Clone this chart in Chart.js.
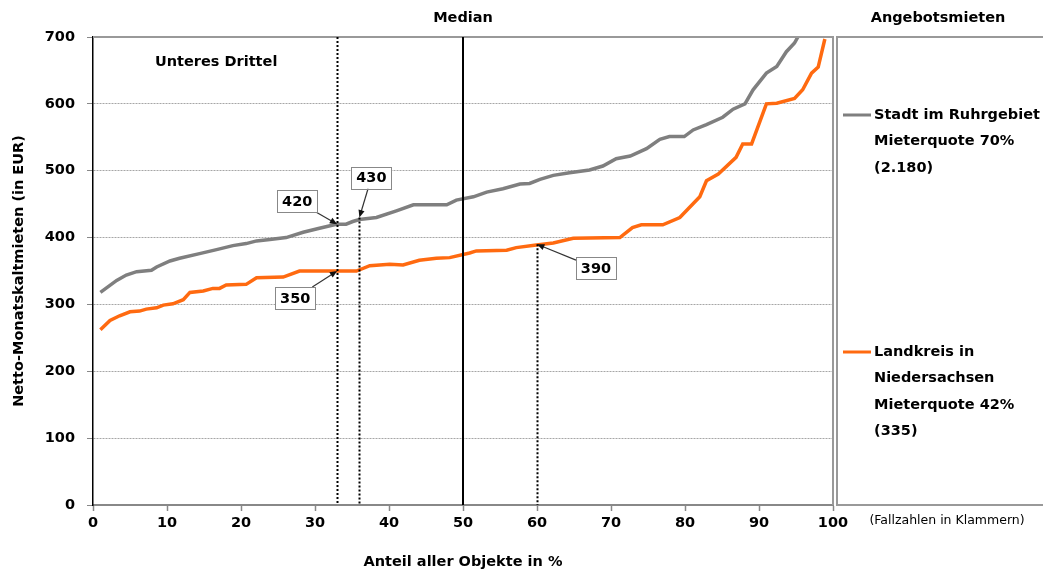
<!DOCTYPE html>
<html>
<head>
<meta charset="utf-8">
<script src="https://cdn.jsdelivr.net/npm/chart.js@4.4.0/dist/chart.umd.min.js"></script>
<style>
body { margin: 0; background: #fff; }
#wrap { width: 1043px; height: 576px; }
</style>
</head>
<body>
<div id="wrap"><canvas id="rentChart"></canvas></div>
<script>
// Stadt im Ruhrgebiet (grau)
const cityPct  = [1, 3.2, 4.5, 5.9, 7.9, 8.6, 10.4, 11.7, 14.4, 16.7, 18.9, 20.7, 22.1, 23.9, 26.1, 28.4, 30.6, 32.9, 34.2, 35.1, 36, 38.3, 41, 43.3, 47.8, 49.1, 51.4, 53.2, 55.4, 57.7, 59, 60.4, 62.2, 64.4, 67.1, 68.9, 70.7, 72.6, 74.8, 76.6, 77.9, 79.9, 81.1, 82.9, 85.1, 86.5, 88.1, 89.2, 91, 92.4, 93.7, 94.8, 95.4];
const cityRent = [318, 336, 344, 349, 351, 356, 365, 369, 376, 382, 388, 391, 395, 397, 400, 408, 414, 420, 420, 424, 427, 430, 440, 449, 449, 456, 461, 468, 473, 480, 481, 487, 493, 497, 501, 507, 518, 522, 533, 547, 551, 551, 561, 569, 580, 592, 600, 621, 646, 656, 678, 691, 703];

// Landkreis in Niedersachsen (orange)
const countyPct  = [1, 2.3, 3.6, 5, 6.3, 7.2, 8.6, 9.5, 10.8, 12.2, 13.1, 14.9, 16.2, 17.1, 18, 20.7, 22.1, 25.7, 27.9, 35.6, 37.4, 40.1, 41.9, 44.1, 46.4, 48.2, 50.9, 51.8, 55.9, 57.2, 59.9, 62.2, 64.9, 71.2, 72.9, 74.1, 77, 79.3, 82, 82.9, 84.5, 86.9, 87.8, 89, 91, 92.4, 94.8, 95.9, 97.1, 98, 98.9];
const countyRent = [262, 276, 283, 289, 290, 293, 295, 299, 301, 307, 318, 320, 324, 324, 329, 330, 340, 341, 350, 350, 358, 360, 359, 366, 369, 370, 377, 380, 381, 385, 389, 392, 399, 400, 415, 419, 419, 430, 461, 485, 495, 520, 540, 540, 600, 601, 608, 621, 646, 655, 697];

// markierte Werte
const markerPct  = [33, 36, 33, 60];
const markerRent = [420, 430, 350, 390];

// senkrechte Hilfslinien (gepunktet), von Wert bis 0
const guidePct = [33, 36, 60];
const guideTop = [700, 430, 390];
const medianPct = 50;

const cityLegend = ['Stadt im Ruhrgebiet', 'Mieterquote 70%', '(2.180)'];
const countyLegend = ['Landkreis in', 'Niedersachsen', 'Mieterquote 42%', '(335)'];

const FONT = "'DejaVu Sans', sans-serif";
const GRAY = '#7f7f7f';
const ORANGE = '#ff6a10';

// box offsets of the value labels relative to the marked point (px)
const labelOffsets = [[-40, -23], [12, -40], [-42, 27], [59, 24]];

function points(xs, ys) {
    return xs.map((v, i) => ({x: v, y: ys[i]}));
}

function arrow(ctx, x0, y0, x1, y1) {
    const ang = Math.atan2(y1 - y0, x1 - x0);
    ctx.beginPath();
    ctx.moveTo(x0, y0);
    ctx.lineTo(x1 - 6 * Math.cos(ang), y1 - 6 * Math.sin(ang));
    ctx.stroke();
    ctx.beginPath();
    ctx.moveTo(x1, y1);
    ctx.lineTo(x1 - 8 * Math.cos(ang - 0.4), y1 - 8 * Math.sin(ang - 0.4));
    ctx.lineTo(x1 - 8 * Math.cos(ang + 0.4), y1 - 8 * Math.sin(ang + 0.4));
    ctx.closePath();
    ctx.fill();
}

const overlay = {
    id: 'overlay',
    afterDatasetsDraw(chart) {
        const {ctx, chartArea: a, scales: {x, y}} = chart;
        ctx.save();

        // top + right frame of plot
        ctx.strokeStyle = '#999';
        ctx.lineWidth = 2;
        ctx.beginPath();
        ctx.moveTo(a.left, a.top);
        ctx.lineTo(a.right, a.top);
        ctx.lineTo(a.right, a.bottom);
        ctx.stroke();

        // dotted guides
        ctx.strokeStyle = '#000';
        ctx.lineWidth = 2;
        ctx.setLineDash([2, 2]);
        for (let i = 0; i < guidePct.length; i++) {
            const px = Math.round(x.getPixelForValue(guidePct[i])) + 0.5;
            ctx.beginPath();
            ctx.moveTo(px, y.getPixelForValue(guideTop[i]));
            ctx.lineTo(px, a.bottom);
            ctx.stroke();
        }
        ctx.setLineDash([]);

        // median
        const mx = x.getPixelForValue(medianPct);
        ctx.beginPath();
        ctx.moveTo(mx, a.top);
        ctx.lineTo(mx, a.bottom);
        ctx.stroke();

        ctx.fillStyle = '#000';
        ctx.font = 'bold 14.5px ' + FONT;
        ctx.textAlign = 'center';
        ctx.textBaseline = 'middle';
        ctx.fillText('Median', mx, a.top - 19);

        ctx.textAlign = 'left';
        ctx.fillText('Unteres Drittel', a.left + 62, a.top + 25);

        // value labels with arrows
        for (let i = 0; i < markerPct.length; i++) {
            const px = x.getPixelForValue(markerPct[i]);
            const py = y.getPixelForValue(markerRent[i]);
            const cx = px + labelOffsets[i][0];
            const cy = py + labelOffsets[i][1];
            const hw = 20, hh = 11;
            const vx = px - cx, vy = py - cy;
            const t = Math.min(hw / Math.abs(vx || 1e-6), hh / Math.abs(vy || 1e-6));
            ctx.strokeStyle = '#333';
            ctx.fillStyle = '#111';
            ctx.lineWidth = 1.2;
            arrow(ctx, cx + vx * t, cy + vy * t, px, py);

            ctx.fillStyle = '#fff';
            ctx.fillRect(cx - hw, cy - hh, hw * 2, hh * 2);
            ctx.strokeStyle = '#888';
            ctx.lineWidth = 1;
            ctx.strokeRect(Math.round(cx - hw) + 0.5, Math.round(cy - hh) + 0.5, hw * 2, hh * 2);
            ctx.fillStyle = '#000';
            ctx.textAlign = 'center';
            ctx.fillText(String(markerRent[i]), cx, cy + 1);
        }
        ctx.restore();
    },
    afterDraw(chart) {
        const {ctx, chartArea: a, width} = chart;
        const bx = a.right + 4;
        ctx.save();
        ctx.strokeStyle = '#999';
        ctx.lineWidth = 2;
        ctx.beginPath();
        ctx.moveTo(width, a.top);
        ctx.lineTo(bx, a.top);
        ctx.lineTo(bx, a.bottom);
        ctx.lineTo(width, a.bottom);
        ctx.stroke();

        ctx.fillStyle = '#000';
        ctx.font = 'bold 14.5px ' + FONT;
        ctx.textAlign = 'center';
        ctx.textBaseline = 'middle';
        ctx.fillText('Angebotsmieten', bx + 101, a.top - 19);

        const entries = [[cityLegend, GRAY, 115], [countyLegend, ORANGE, 352]];
        ctx.textAlign = 'left';
        entries.forEach(([lines, color, top]) => {
            ctx.strokeStyle = color;
            ctx.lineWidth = 3;
            ctx.beginPath();
            ctx.moveTo(bx + 6, top);
            ctx.lineTo(bx + 34, top);
            ctx.stroke();
            lines.forEach((t, k) => ctx.fillText(t, bx + 37, top + k * 26.5));
        });

        ctx.font = '12.5px ' + FONT;
        ctx.textAlign = 'center';
        ctx.fillText('(Fallzahlen in Klammern)', bx + 110, a.bottom + 16);
        ctx.restore();
    }
};

const ctx1 = document.getElementById('rentChart');

new Chart(ctx1, {
    type: 'line',
    data: {
        datasets: [
            {
                label: 'Stadt im Ruhrgebiet',
                data: points(cityPct, cityRent),
                borderColor: GRAY,
                borderWidth: 3.5,
                pointRadius: 0,
                tension: 0
            },
            {
                label: 'Landkreis in Niedersachsen',
                data: points(countyPct, countyRent),
                borderColor: ORANGE,
                borderWidth: 3.5,
                pointRadius: 0,
                tension: 0
            }
        ]
    },
    options: {
        responsive: true,
        maintainAspectRatio: false,
        animation: false,
        layout: {
            padding: {left: 0, right: 210, top: 37, bottom: 0}
        },
        scales: {
            x: {
                type: 'linear',
                min: 0,
                max: 100,
                afterFit: (s) => { s.height = 71; },
                ticks: {
                    stepSize: 10,
                    color: '#000',
                    padding: 4,
                    font: {family: FONT, size: 14.5, weight: 'bold'}
                },
                grid: {
                    drawOnChartArea: false,
                    tickLength: 6,
                    tickColor: '#888',
                    tickWidth: 1.5
                },
                border: {color: '#888', width: 2},
                title: {
                    display: true,
                    text: 'Anteil aller Objekte in %',
                    color: '#000',
                    padding: {top: 0, bottom: 5},
                    font: {family: FONT, size: 14.5, weight: 'bold'}
                }
            },
            y: {
                min: 0,
                max: 700,
                afterFit: (s) => { s.width = 93; },
                ticks: {
                    stepSize: 100,
                    color: '#000',
                    padding: 12,
                    font: {family: FONT, size: 14.5, weight: 'bold'}
                },
                grid: {
                    color: (c) => (c.tick && (c.tick.value === 0 || c.tick.value === 700)) ? 'rgba(0,0,0,0)' : '#a6a6a6',
                    lineWidth: 1,
                    tickLength: 6,
                    tickColor: '#888',
                    tickBorderDash: []
                },
                border: {color: '#000', width: 1.5, dash: [2, 1]},
                title: {
                    display: true,
                    text: 'Netto-Monatskaltmieten (in EUR)',
                    color: '#000',
                    padding: {top: 11, bottom: 0},
                    font: {family: FONT, size: 14.5, weight: 'bold'}
                }
            }
        },
        plugins: {
            legend: {display: false},
            tooltip: {enabled: false}
        }
    },
    plugins: [overlay]
});
</script>
</body>
</html>
